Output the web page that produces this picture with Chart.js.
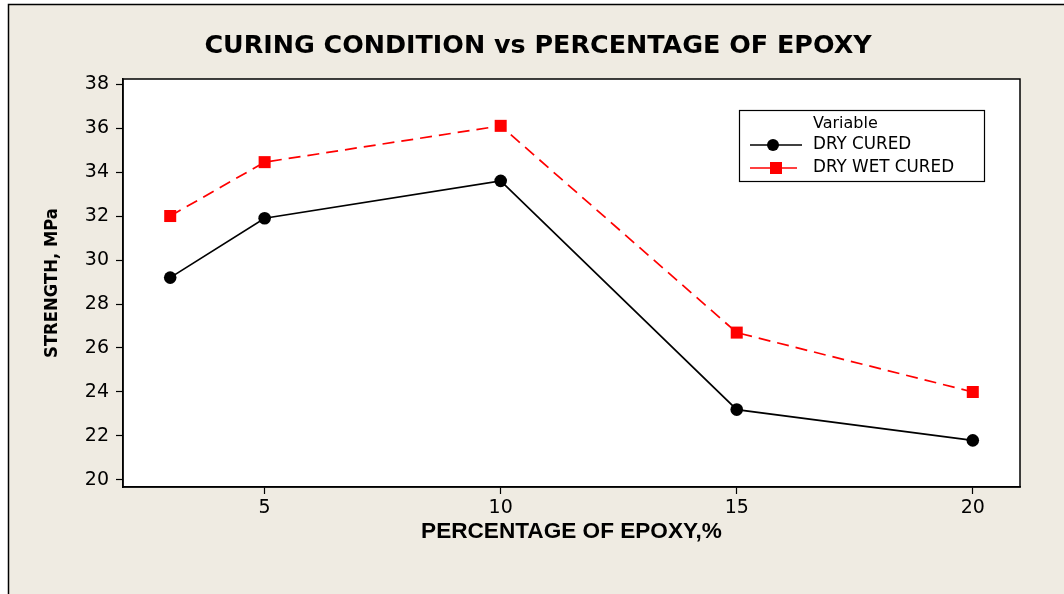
<!DOCTYPE html>
<html>
<head>
<meta charset="utf-8">
<script src="https://cdn.jsdelivr.net/npm/chart.js@4.4.1/dist/chart.umd.min.js"></script>
<style>
html,body{margin:0;padding:0;background:#ffffff;}
canvas{display:block;}
</style>
</head>
<body>
<canvas id="c" width="1064" height="594"></canvas>
<script>
// ---- data ----
const epoxyPercent = [3, 5, 10, 15, 20];
const dryCured = [29.2, 31.9, 33.6, 23.2, 21.8];
const dryWetCured = [32.0, 34.45, 36.1, 26.7, 24.0];
const xTickValues = [5, 10, 15, 20];
const yTickValues = [20, 22, 24, 26, 28, 30, 32, 34, 36, 38];
const seriesNames = ['DRY CURED', 'DRY WET CURED'];
const chartTitle = 'CURING CONDITION vs PERCENTAGE OF EPOXY';
const xTitle = 'PERCENTAGE OF EPOXY,%';
const yTitle = 'STRENGTH, MPa';
const legendTitle = 'Variable';

const BEIGE = '#efebe2';

const framePlugin = {
  id: 'frame',
  beforeDraw(chart) {
    const ctx = chart.ctx;
    const ca = chart.chartArea;
    ctx.save();
    ctx.fillStyle = '#ffffff';
    ctx.fillRect(0, 0, chart.width, chart.height);
    ctx.fillStyle = BEIGE;
    ctx.fillRect(8, 4, chart.width, chart.height);
    ctx.strokeStyle = '#000';
    ctx.lineWidth = 1.5;
    ctx.beginPath();
    ctx.moveTo(8.5, chart.height + 2);
    ctx.lineTo(8.5, 4.5);
    ctx.lineTo(chart.width + 2, 4.5);
    ctx.stroke();
    ctx.fillStyle = '#ffffff';
    ctx.fillRect(ca.left, ca.top, ca.right - ca.left, ca.bottom - ca.top);
    // chart title
    ctx.fillStyle = '#000';
    ctx.font = 'bold 25.4px "DejaVu Sans"';
    ctx.textAlign = 'center';
    ctx.textBaseline = 'middle';
    ctx.fillText(chartTitle, 538, 46);
    ctx.restore();
  },
  afterDatasetsDraw(chart) {
    const ctx = chart.ctx;
    const ca = chart.chartArea;
    ctx.save();
    ctx.strokeStyle = '#000';
    ctx.lineWidth = 1.5;
    ctx.strokeRect(ca.left, ca.top, ca.right - ca.left, ca.bottom - ca.top);
    // legend
    const bx = 739.5, by = 110.5, bw = 245, bh = 71;
    ctx.fillStyle = '#ffffff';
    ctx.fillRect(bx, by, bw, bh);
    ctx.lineWidth = 1.2;
    ctx.strokeRect(bx, by, bw, bh);
    ctx.fillStyle = '#000';
    ctx.textBaseline = 'middle';
    ctx.textAlign = 'left';
    ctx.font = '16px "DejaVu Sans"';
    ctx.fillText(legendTitle, 813, 123.5);
    ctx.font = '16.8px "DejaVu Sans"';
    const rows = [145, 168];
    chart.data.datasets.forEach((ds, i) => {
      const y = rows[i];
      ctx.save();
      ctx.strokeStyle = ds.borderColor;
      ctx.lineWidth = 1.6;
      ctx.beginPath();
      ctx.moveTo(750, y);
      ctx.lineTo(i === 0 ? 802 : 797, y);
      ctx.stroke();
      ctx.fillStyle = ds.pointBackgroundColor;
      if (ds.pointStyle === 'rect') {
        ctx.fillRect(770, y - 6, 12, 12);
      } else {
        ctx.beginPath();
        ctx.arc(773, y, 6, 0, Math.PI * 2);
        ctx.fill();
      }
      ctx.restore();
      ctx.fillStyle = '#000';
      ctx.fillText(ds.label, 813, y);
    });
    ctx.restore();
  }
};

new Chart(document.getElementById('c'), {
  type: 'line',
  data: {
    datasets: [
      {
        label: seriesNames[0],
        data: epoxyPercent.map((x, i) => ({x, y: dryCured[i]})),
        borderColor: '#000000',
        backgroundColor: '#000000',
        pointBackgroundColor: '#000000',
        pointBorderColor: '#000000',
        borderWidth: 1.7,
        pointStyle: 'circle',
        pointRadius: 6.3,
        pointBorderWidth: 0,
        tension: 0,
        fill: false
      },
      {
        label: seriesNames[1],
        data: epoxyPercent.map((x, i) => ({x, y: dryWetCured[i]})),
        borderColor: '#ff0000',
        backgroundColor: '#ff0000',
        pointBackgroundColor: '#ff0000',
        pointBorderColor: '#ff0000',
        borderWidth: 1.7,
        borderDash: [12, 7],
        pointStyle: 'rect',
        pointRadius: 8.5,
        pointBorderWidth: 0,
        tension: 0,
        fill: false
      }
    ]
  },
  options: {
    responsive: false,
    animation: false,
    devicePixelRatio: 1,
    layout: { padding: { left: 8, top: 79, right: 44, bottom: 0 } },
    plugins: {
      legend: { display: false },
      title: { display: false },
      tooltip: { enabled: false }
    },
    scales: {
      x: {
        type: 'linear',
        position: 'bottom',
        min: 2,
        max: 21,
        afterBuildTicks(scale) { scale.ticks = xTickValues.map(v => ({value: v})); },
        afterFit(scale) { scale.height = 107; },
        grid: { drawOnChartArea: false, drawTicks: true, tickLength: 7, tickColor: '#000', tickWidth: 1.2 },
        border: { display: true, color: '#000', width: 1.5 },
        ticks: { color: '#000', font: { family: 'DejaVu Sans', size: 19 }, padding: 3, maxRotation: 0, autoSkip: false },
        title: { display: true, text: xTitle, color: '#000', font: { family: 'Liberation Sans', size: 22.6, weight: 'bold' }, padding: { top: 0, bottom: 48.6 } }
      },
      y: {
        type: 'linear',
        min: 19.68,
        max: 38.23,
        afterBuildTicks(scale) { scale.ticks = yTickValues.map(v => ({value: v})); },
        afterFit(scale) { scale.width = 115; },
        grid: { drawOnChartArea: false, drawTicks: true, tickLength: 7, tickColor: '#000', tickWidth: 1.2 },
        border: { display: true, color: '#000', width: 1.5 },
        ticks: { color: '#000', font: { family: 'DejaVu Sans', size: 19 }, padding: 7, autoSkip: false },
        title: { display: true, text: yTitle, color: '#000', font: { family: '"Liberation Sans Narrow", "DejaVu Sans Condensed", sans-serif', size: 18.3, weight: 'bold' }, padding: { top: 33, bottom: 0 } }
      }
    }
  },
  plugins: [framePlugin]
});
</script>
</body>
</html>
